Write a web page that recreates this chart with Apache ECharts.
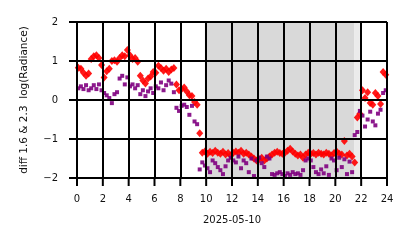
<!DOCTYPE html>
<html>
<head>
<meta charset="utf-8">
<script src="https://cdn.jsdelivr.net/npm/echarts@6/dist/echarts.min.js"></script>
<style>html,body{margin:0;padding:0;background:#fff}#c{width:414px;height:248px}</style>
</head>
<body>
<div id="c"></div>
<script>
const hours = [
  0.1,0.3,0.5,0.7,0.9, 1.1,1.3,1.5,1.7,1.9, 2.1,2.3,2.5,2.7,2.9, 3.1,3.3,3.5,3.7,3.9,
  4.1,4.3,4.5,4.7,4.9, 5.1,5.3,5.5,5.7,5.9, 6.1,6.3,6.5,6.7,6.9, 7.1,7.3,7.5,7.7,7.9,
  8.1,8.3,8.5,8.7,8.9, 9.1,9.3,9.5,9.7,9.9, 10.1,10.3,10.5,10.7,10.9, 11.1,11.3,11.5,11.7,11.9,
  12.1,12.3,12.5,12.7,12.9, 13.1,13.3,13.5,13.7,13.9, 14.1,14.3,14.5,14.7,14.9, 15.1,15.3,15.5,15.7,15.9,
  16.1,16.3,16.5,16.7,16.9, 17.1,17.3,17.5,17.7,17.9, 18.1,18.3,18.5,18.7,18.9, 19.1,19.3,19.5,19.7,19.9,
  20.1,20.3,20.5,20.7,20.9, 21.1,21.3,21.5,21.7,21.9, 22.1,22.3,22.5,22.7,22.9, 23.1,23.3,23.5,23.7,23.9
];
const redValues = [
  0.83,0.80,0.70,0.62,0.68, 1.05,1.12,1.15,1.08,0.90, 0.58,0.74,0.80,1.00,1.02, 0.98,1.08,1.15,1.12,1.28,
  1.15,1.05,1.08,0.98,0.62, 0.50,0.42,0.55,0.60,0.72, 0.70,0.88,0.82,0.75,0.80, 0.72,0.78,0.82,0.40,0.25,
  0.28,0.32,0.22,0.12,0.10, -0.05,-0.12,-0.85,-1.35,-1.32, -1.38,-1.33,-1.36,-1.30,-1.35, -1.38,-1.33,-1.40,-1.36,-1.42,
  -1.35,-1.32,-1.35,-1.30,-1.38, -1.35,-1.40,-1.45,-1.50,-1.55, -1.52,-1.48,-1.55,-1.50,-1.45, -1.40,-1.35,-1.33,-1.36,-1.38,
  -1.35,-1.30,-1.25,-1.32,-1.38, -1.42,-1.40,-1.48,-1.40,-1.35, -1.38,-1.36,-1.40,-1.35,-1.38, -1.40,-1.35,-1.38,-1.42,-1.36,
  -1.32,-1.38,-1.40,-1.05,-1.42, -1.38,-1.45,-1.60,-0.45,-0.35, 0.25,0.05,0.20,-0.08,-0.12, 0.18,0.10,-0.10,0.72,0.65
];
const purpleValues = [
  0.30,0.35,0.28,0.38,0.25, 0.30,0.38,0.28,0.40,0.25, 0.18,0.12,0.05,-0.08,0.15, 0.20,0.55,0.62,0.40,0.58,
  0.35,0.40,0.30,0.38,0.15, 0.25,0.10,0.22,0.30,0.18, 0.35,0.30,0.45,0.25,0.38, 0.50,0.42,0.20,-0.20,-0.28,
  -0.15,-0.12,-0.18,-0.38,-0.15, -0.55,-0.62,-1.78,-1.60,-1.68, -1.75,-1.85,-1.55,-1.62,-1.72, -1.80,-1.90,-1.70,-1.55,-1.48,
  -1.55,-1.60,-1.45,-1.75,-1.55, -1.62,-1.85,-1.50,-1.95,-1.55, -1.48,-1.62,-1.72,-1.45,-1.50, -1.90,-1.92,-1.88,-1.85,-1.90,
  -1.95,-1.88,-1.92,-1.85,-1.90, -1.88,-1.92,-1.80,-1.55,-1.50, -1.55,-1.72,-1.85,-1.90,-1.78, -1.88,-1.70,-1.92,-1.50,-1.55,
  -1.80,-1.48,-1.72,-1.52,-1.90, -1.58,-1.85,-0.90,-0.82,-0.28, -0.40,-0.68,-0.50,-0.30,-0.55, -0.65,-0.35,-0.25,0.18,0.25
];
const xTickValues = [0, 2, 4, 6, 8, 10, 12, 14, 16, 18, 20, 22, 24];
const yTickValues = [-2, -1, 0, 1, 2];
const nightSpan = [9.9, 21.45];
const nightFade = [21.45, 21.9];
const dateLabel = '2025-05-10';
const yLabel = 'diff 1.6 & 2.3  log(Radiance)';

const FONT = 'DejaVu Sans';
const ls = () => ({color: '#000000', width: 2});
const chart = echarts.init(document.getElementById('c'), null, {renderer: 'canvas'});
chart.setOption({
  animation: false,
  backgroundColor: '#fff',
  grid: {left: 77, right: 27, top: 22, bottom: 70},
  xAxis: {
    type: 'value', min: xTickValues[0], max: xTickValues[xTickValues.length - 1], interval: 2,
    name: dateLabel, nameLocation: 'middle', nameGap: 37,
    nameTextStyle: {fontFamily: FONT, fontSize: 10, color: '#111'},
    axisLine: {show: true, onZero: false, lineStyle: ls()},
    axisTick: {show: false},
    axisLabel: {fontFamily: FONT, fontSize: 10, color: '#111', margin: 16},
    splitLine: {show: true, lineStyle: ls()}
  },
  yAxis: {
    type: 'value', min: yTickValues[0], max: yTickValues[yTickValues.length - 1], interval: 1,
    name: yLabel, nameLocation: 'middle', nameGap: 47, nameRotate: 90,
    nameTextStyle: {fontFamily: FONT, fontSize: 10.5, color: '#111'},
    axisLine: {show: true, onZero: false, lineStyle: ls()},
    axisTick: {show: false},
    axisLabel: {fontFamily: FONT, fontSize: 10, color: '#111', margin: 19,
      formatter: v => String(v).replace('-', '\u2212')},
    splitLine: {show: true, lineStyle: ls()}
  },
  series: [
    {
      type: 'scatter', name: 'red', symbol: 'diamond', symbolSize: [7, 8], z: -1,
      itemStyle: {color: '#ff0000', opacity: 0.9},
      data: hours.map((h, i) => [h, redValues[i]]),
      markArea: {
        silent: true, z: -3,
        data: [
          [{xAxis: nightSpan[0], itemStyle: {color: '#d9d9d9'}}, {xAxis: nightSpan[1]}],
          [{xAxis: nightFade[0], itemStyle: {color: '#ebebeb'}}, {xAxis: nightFade[1]}]
        ]
      }
    },
    {
      type: 'scatter', name: 'purple', symbol: 'rect', symbolSize: 4, z: -1,
      itemStyle: {color: '#800080', opacity: 0.9},
      data: hours.map((h, i) => [h, purpleValues[i]])
    }
  ]
});

// outward tick marks placed through the library's own axis scales
const TICK = 8;
const yBottom = chart.convertToPixel({yAxisIndex: 0}, yTickValues[0]);
const xLeft = chart.convertToPixel({xAxisIndex: 0}, xTickValues[0]);
const tickEls = [];
xTickValues.forEach(v => {
  const px = chart.convertToPixel({xAxisIndex: 0}, v);
  tickEls.push({type: 'line', silent: true, z: 100,
    shape: {x1: px, y1: yBottom, x2: px, y2: yBottom + TICK},
    style: {stroke: '#000', lineWidth: 2}});
});
yTickValues.forEach(v => {
  const py = chart.convertToPixel({yAxisIndex: 0}, v);
  tickEls.push({type: 'line', silent: true, z: 100,
    shape: {x1: xLeft - TICK, y1: py, x2: xLeft, y2: py},
    style: {stroke: '#000', lineWidth: 2}});
});
chart.setOption({graphic: tickEls});
</script>
</body>
</html>
